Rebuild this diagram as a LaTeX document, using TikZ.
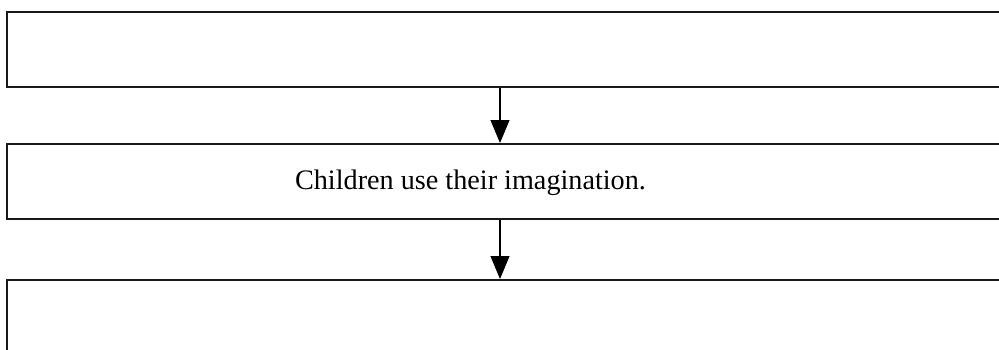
\documentclass[tikz,border=0pt]{standalone}
\usepackage{fontspec}
\setmainfont{Liberation Serif}
\usetikzlibrary{arrows.meta}
\tikzset{
  flowbox/.style={draw=black!90, line width=1.6pt, rectangle, inner sep=0pt,
    anchor=north west, minimum width=1004pt, minimum height=75pt},
  flowarrow/.style={draw=black, line width=1.1pt,
    -{Triangle[width=19pt,length=23pt]}},
  boxtext/.style={font=\fontsize{28.2}{33}\selectfont, inner sep=0pt, anchor=base}
}
\begin{document}
\begin{tikzpicture}[x=1pt,y=-1pt]
  \useasboundingbox (0,0) rectangle (999,349);
  \clip (0,0) rectangle (999,349);
  \fill[white] (0,0) rectangle (999,349);
  % three stacked boxes, running off the right and bottom edges
  \node[flowbox] (top) at (6,11) {};
  \node[flowbox] (mid) at (6,143) {};
  \node[flowbox, minimum height=85pt] (bot) at (6,279) {};
  \node[boxtext] (label) at (470.5,189) {Children use their imagination.};
  % arrow column
  \coordinate (axis) at (500,0);
  \draw[flowarrow] (top.south -| axis) -- (mid.north -| axis);
  \draw[flowarrow] (mid.south -| axis) -- (bot.north -| axis);
\end{tikzpicture}
\end{document}
